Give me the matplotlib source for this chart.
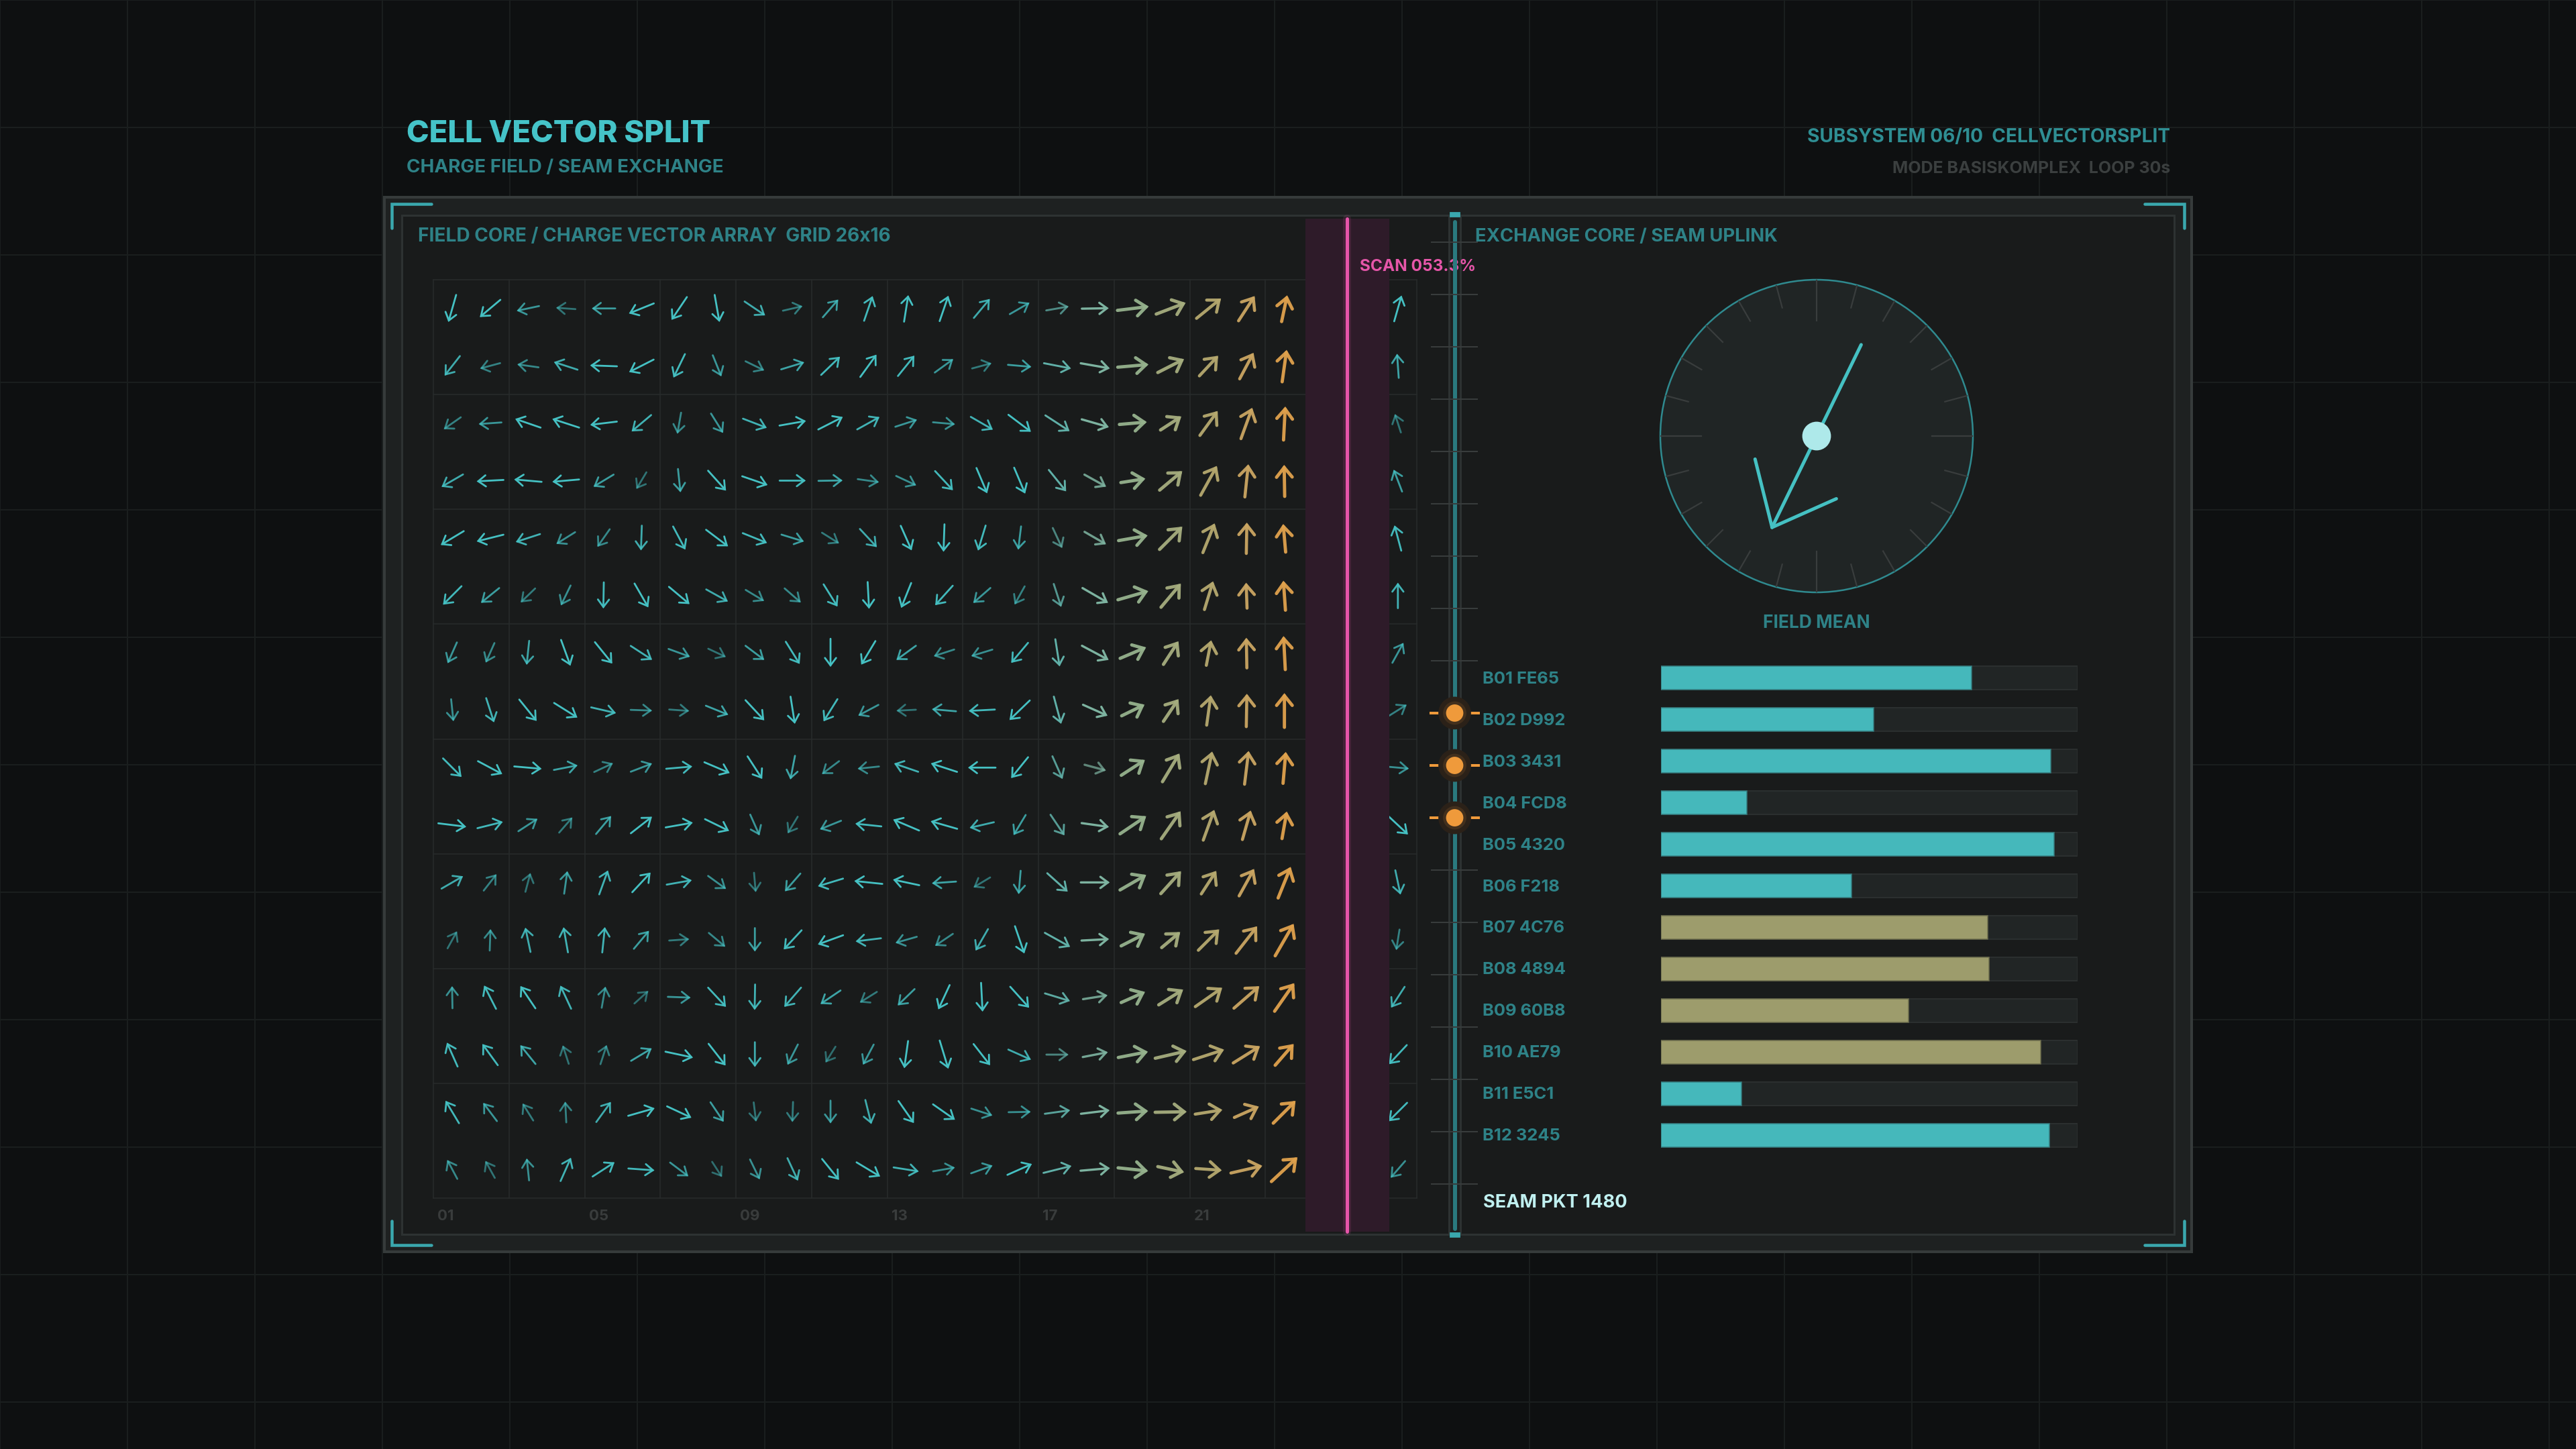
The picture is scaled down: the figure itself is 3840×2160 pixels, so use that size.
import matplotlib
matplotlib.use("Agg")
import matplotlib.pyplot as plt
import matplotlib.transforms as mtransforms
from matplotlib.patches import Rectangle, Circle
import numpy as np

nan = np.nan

# ---------------- data ----------------
n_cols, n_rows = 26, 16

# direction of each charge vector in degrees (0 = right, 90 = up), rows top to bottom
# columns 24 and 25 sit under the scan band and are not visible
ang = np.array([
    [254, 220, 192, 176, 180, 202, 236, 280, 326, 13, 49, 71, 81, 71, 50, 30, 10, 1, 7, 21, 39, 57, 78, nan, nan, 74],
    [232, 195, 172, 162, 178, 207, 244, 292, 334, 17, 44, 54, 51, 36, 15, 355, 349, 350, 5, 27, 47, 62, 82, nan, nan, 94],
    [215, 184, 161, 162, 187, 220, 260, 302, 339, 10, 27, 29, 18, 355, 330, 323, 327, 344, 5, 33, 54, 70, 87, nan, nan, 108],
    [210, 183, 175, 185, 211, 239, 276, 312, 341, 0, 1, 352, 335, 313, 293, 293, 309, 331, 9, 40, 61, 84, 91, nan, nan, 111],
    [211, 194, 198, 212, 235, 268, 298, 323, 338, 343, 328, 313, 294, 268, 253, 263, 295, 330, 10, 45, 68, 89, 95, nan, nan, 105],
    [225, 219, 224, 244, 269, 300, 320, 331, 329, 319, 302, 273, 248, 228, 221, 241, 288, 330, 16, 50, 73, 92, 94, nan, nan, 90],
    [246, 246, 264, 290, 309, 327, 340, 335, 323, 302, 270, 239, 216, 198, 197, 230, 279, 332, 23, 57, 79, 91, 93, nan, nan, 61],
    [276, 288, 309, 328, 347, 358, 356, 338, 313, 279, 238, 208, 183, 175, 183, 224, 285, 336, 26, 56, 82, 89, 90, nan, nan, 32],
    [315, 332, 355, 11, 25, 21, 5, 337, 303, 259, 217, 186, 161, 162, 180, 231, 294, 345, 33, 59, 78, 83, 85, nan, nan, 355],
    [353, 14, 33, 49, 50, 38, 10, 334, 294, 239, 202, 174, 157, 164, 193, 239, 304, 352, 34, 55, 70, 74, 80, nan, nan, 317],
    [30, 52, 75, 82, 70, 47, 10, 324, 275, 229, 197, 174, 168, 184, 211, 265, 318, 0, 30, 48, 57, 61, 68, nan, nan, 282],
    [61, 88, 102, 100, 84, 50, 4, 320, 270, 227, 200, 187, 196, 214, 240, 289, 331, 3, 27, 40, 45, 52, 60, nan, nan, 261],
    [91, 117, 124, 115, 80, 42, 358, 313, 269, 229, 214, 212, 224, 245, 273, 312, 343, 9, 24, 32, 35, 41, 55, nan, nan, 237],
    [114, 126, 129, 108, 72, 31, 348, 308, 270, 243, 238, 242, 262, 287, 308, 336, 0, 11, 11, 13, 18, 32, 49, nan, nan, 227],
    [121, 127, 122, 93, 54, 16, 335, 304, 277, 268, 270, 284, 305, 325, 342, 1, 8, 7, 4, 1, 9, 24, 45, nan, nan, 225],
    [118, 119, 96, 66, 33, 356, 323, 303, 296, 295, 309, 329, 351, 10, 20, 24, 14, 5, 354, 348, 356, 13, 43, nan, nan, 229],
])

# magnitude of each vector (arbitrary units)
mag = np.array([
    [42, 40, 34, 29, 35, 40, 41, 41, 37, 30, 35, 39, 40, 40, 37, 34, 34, 40, 47, 47, 47, 44, 40, nan, nan, 40],
    [37, 31, 32, 37, 40, 41, 39, 34, 31, 36, 39, 41, 39, 34, 30, 35, 41, 44, 46, 44, 41, 44, 48, nan, nan, 36],
    [31, 34, 40, 42, 40, 38, 32, 34, 38, 40, 41, 38, 34, 33, 38, 42, 43, 42, 41, 37, 45, 49, 50, nan, nan, 29],
    [37, 40, 41, 40, 35, 29, 35, 40, 40, 39, 36, 32, 33, 39, 41, 42, 41, 37, 37, 44, 50, 49, 47, nan, nan, 35],
    [40, 41, 38, 33, 32, 37, 39, 41, 39, 35, 30, 37, 40, 41, 39, 35, 33, 37, 44, 48, 47, 46, 42, nan, nan, 39],
    [39, 35, 30, 33, 39, 41, 40, 37, 32, 32, 39, 40, 40, 39, 34, 31, 36, 44, 47, 46, 44, 38, 44, nan, nan, 38],
    [34, 32, 36, 41, 41, 38, 34, 29, 35, 39, 42, 41, 36, 32, 33, 39, 41, 45, 42, 41, 38, 45, 50, nan, nan, 34],
    [33, 38, 41, 41, 38, 32, 30, 36, 41, 41, 39, 34, 29, 36, 39, 42, 42, 40, 38, 40, 45, 49, 51, nan, nan, 31],
    [39, 41, 41, 36, 31, 34, 39, 41, 40, 36, 32, 32, 38, 41, 41, 40, 37, 33, 42, 49, 49, 50, 47, nan, nan, 33],
    [42, 39, 34, 30, 35, 40, 41, 40, 34, 29, 34, 39, 42, 41, 37, 35, 37, 41, 47, 50, 48, 45, 41, nan, nan, 41],
    [37, 31, 29, 34, 38, 40, 38, 33, 29, 35, 39, 42, 40, 36, 29, 35, 41, 43, 45, 45, 41, 46, 50, nan, nan, 37],
    [29, 32, 37, 38, 38, 35, 30, 32, 35, 39, 40, 38, 33, 32, 37, 43, 43, 41, 40, 36, 44, 51, 55, nan, nan, 31],
    [33, 39, 40, 38, 32, 28, 34, 39, 38, 38, 36, 30, 35, 40, 43, 42, 39, 37, 39, 43, 49, 50, 51, nan, nan, 37],
    [39, 39, 36, 29, 30, 36, 42, 41, 37, 34, 28, 34, 41, 44, 40, 37, 33, 38, 45, 48, 48, 47, 42, nan, nan, 39],
    [39, 34, 30, 31, 37, 41, 40, 35, 29, 30, 34, 37, 40, 40, 33, 33, 38, 43, 45, 47, 41, 40, 47, nan, nan, 39],
    [32, 29, 33, 38, 39, 39, 34, 27, 33, 37, 40, 41, 38, 33, 34, 40, 43, 44, 45, 40, 39, 48, 53, nan, nan, 33],
])

col_label_cols = [1, 5, 9, 13, 17, 21, 25]

scan_col = 24.65
scan_band = (23.55, 25.78)
scan_text = "SCAN 053.3%"

field_mean_deg = 244
field_mean_len = 0.65

bar_labels = ["B01 FE65", "B02 D992", "B03 3431", "B04 FCD8", "B05 4320", "B06 F218",
              "B07 4C76", "B08 4894", "B09 60B8", "B10 AE79", "B11 E5C1", "B12 3245"]
bar_values = [0.745, 0.511, 0.935, 0.206, 0.943, 0.457, 0.784, 0.787, 0.594, 0.911, 0.193, 0.933]
bar_kind = ["core"] * 6 + ["seam"] * 4 + ["core"] * 2

seam_ticks = 19
seam_active = [9, 10, 11]

# ---------------- style ----------------
BG = "#0e1011"
FRAME = "#1e2121"
PANEL = "#191b1b"
EDGE = "#2d3232"
CYAN = "#45c1c3"
TEAL_TXT = "#2e8287"
BRACKET = "#3aa8ae"
col_color = {17: "#60b0a8", 18: "#7db3a0", 19: "#96b38e", 20: "#a6ae7f",
             21: "#b6a96f", 22: "#cba662", 23: "#e0a24d"}
col_lw = {17: 1.05, 18: 1.2, 19: 1.75, 20: 1.75, 21: 1.65, 22: 1.65, 23: 1.75}

plt.rcParams['font.family'] = ['Inter', 'DejaVu Sans']
plt.rcParams['font.weight'] = 'bold'

W, H, DPI = 3840, 2160, 200
PT = 72 / DPI  # points per pixel

fig = plt.figure(figsize=(W / DPI, H / DPI), dpi=DPI, facecolor=BG)


def px_axes(l, t, r, b, z):
    ax = fig.add_axes([l / W, 1 - b / H, (r - l) / W, (b - t) / H], zorder=z)
    ax.set_axis_off()
    return ax


bg = px_axes(0, 0, W, H, 0)
bg.set_xlim(0, W)
bg.set_ylim(H, 0)
fg = px_axes(0, 0, W, H, 5)
fg.set_xlim(0, W)
fg.set_ylim(H, 0)

# background grid
for gx in range(0, W + 1, 190):
    bg.plot([gx, gx], [0, H], color="#1a1e1e", lw=2 * PT, zorder=0)
for gy in range(0, H + 1, 190):
    bg.plot([0, W], [gy, gy], color="#1a1e1e", lw=2 * PT, zorder=0)

# frames
bg.add_patch(Rectangle((573, 294), 2694, 1572, fc=FRAME, ec="#363b3b", lw=4 * PT, zorder=1))
bg.add_patch(Rectangle((599, 321), 1561, 1519, fc=PANEL, ec=EDGE, lw=3 * PT, zorder=2))
bg.add_patch(Rectangle((2177, 321), 1064, 1519, fc=PANEL, ec=EDGE, lw=3 * PT, zorder=2))

# corner brackets
for cx, cy, sx, sy in [(584, 304, 1, 1), (3256, 304, -1, 1), (584, 1856, 1, -1), (3256, 1856, -1, -1)]:
    bg.plot([cx + sx * 59, cx, cx], [cy, cy, cy + sy * 36], color=BRACKET, lw=4.5 * PT,
            solid_capstyle="round", solid_joinstyle="miter", zorder=3)

# titles
bg.text(606, 212, "CELL VECTOR SPLIT", color="#45c3c8", fontsize=16.3, fontweight="heavy",
        va="baseline", zorder=4)
bg.text(606, 257, "CHARGE FIELD / SEAM EXCHANGE", color=TEAL_TXT, fontsize=10.0, va="baseline", zorder=4)
bg.text(3235, 212, "SUBSYSTEM 06/10  CELLVECTORSPLIT", color="#2f8e93", fontsize=10.1,
        ha="right", va="baseline", zorder=4)
bg.text(3235, 258, "MODE BASISKOMPLEX  LOOP 30s", color="#3b3f3f", fontsize=9.0,
        ha="right", va="baseline", zorder=4)
bg.text(623, 360, "FIELD CORE / CHARGE VECTOR ARRAY  GRID 26x16", color=TEAL_TXT, fontsize=10.1,
        va="baseline", zorder=4)
bg.text(2199, 360, "EXCHANGE CORE / SEAM UPLINK", color=TEAL_TXT, fontsize=9.9,
        va="baseline", zorder=4)
bg.text(2211, 1800, "SEAM PKT 1480", color="#c0f0f0", fontsize=9.8, va="baseline", zorder=4)

# ---------------- vector field ----------------
gl, gt, gr, gb = 646, 417, 2112, 1786
axv = px_axes(gl, gt, gr, gb, 2)
axv.set_xlim(0.5, n_cols + 0.5)
axv.set_ylim(n_rows + 0.5, 0.5)
colpx = (gr - gl) / n_cols
rowpx = (gb - gt) / n_rows

for gx in np.arange(0.5, n_cols + 0.6, 2):
    axv.plot([gx, gx], [0.5, n_rows + 0.5], color="#272b2b", lw=1.6 * PT, zorder=1, clip_on=False)
for gy in np.arange(0.5, n_rows + 0.6, 2):
    axv.plot([0.5, n_cols + 0.5], [gy, gy], color="#272b2b", lw=1.6 * PT, zorder=1, clip_on=False)

for r in range(n_rows):
    for c in range(n_cols):
        a, m = ang[r, c], mag[r, c]
        if np.isnan(a):
            continue
        col = c + 1
        th = np.deg2rad(a)
        dx = m * np.cos(th) / colpx
        dy = -m * np.sin(th) / rowpx
        x0, y0 = col, r + 1
        lw = col_lw.get(col, 1.0)
        thick = lw > 1.4
        hl, hw = (0.52, 0.42) if thick else (0.4, 0.3)
        alpha = 0.95 if thick else 0.5 + 0.5 * np.clip((m - 28) / 12, 0, 1)
        axv.annotate("", xy=(x0 + dx / 2, y0 + dy / 2), xytext=(x0 - dx / 2, y0 - dy / 2),
                     arrowprops=dict(arrowstyle=f"->,head_length={hl},head_width={hw}",
                                     color=col_color.get(col, CYAN), lw=lw, alpha=alpha,
                                     shrinkA=0, shrinkB=0, capstyle="round", joinstyle="miter"),
                     annotation_clip=False, zorder=3)

for c in col_label_cols:
    axv.text(c - 0.39, n_rows + 0.5 + 33 / rowpx, f"{c:02d}", color="#393c3c", fontsize=8,
             va="baseline", zorder=2, clip_on=False)

# scan band and line
y_lo = -(1836 - gb) / (gb - gt)
y_hi = 1 + (gt - 326) / (gb - gt)
axv.axvspan(scan_band[0], scan_band[1], ymin=y_lo, ymax=y_hi, color="#2e1b29", lw=0,
            zorder=6, clip_on=False)
axv.axvline(scan_col, ymin=y_lo, ymax=y_hi, color="#e655aa", lw=12 * PT, alpha=0.12,
            zorder=7, clip_on=False, solid_capstyle="round")
axv.axvline(scan_col, ymin=y_lo, ymax=y_hi, color="#e655aa", lw=5 * PT,
            zorder=7, clip_on=False, solid_capstyle="round")
axv.text(scan_col + 0.335, 0.5 - 13 / rowpx, scan_text, color="#e656a9", fontsize=8.8,
         va="baseline", zorder=8, clip_on=False)

# ---------------- seam strip ----------------
fg.plot([2168.5, 2168.5], [331, 1832], color="#2a7a7f", lw=6 * PT, solid_capstyle="round", zorder=1)
fg.add_patch(Rectangle((2162, 317), 13, 5, color=BRACKET, zorder=1))
fg.add_patch(Rectangle((2162, 1838), 13, 5, color=BRACKET, zorder=1))
for k in range(seam_ticks):
    ty = 360.5 + 78.05 * k
    if k in seam_active:
        fg.plot([2133, 2146], [ty, ty], color="#ef9a3b", lw=4 * PT, zorder=2)
        fg.plot([2191, 2204], [ty, ty], color="#ef9a3b", lw=4 * PT, zorder=2)
        fg.add_patch(Circle((2168.5, ty), 23, color="#2b2118", zorder=3))
        fg.add_patch(Circle((2168.5, ty), 16, color="#43301d", zorder=3))
        fg.add_patch(Circle((2168.5, ty), 11.5, color="#ef9a3b", zorder=4))
    else:
        fg.plot([2134, 2202], [ty, ty], color="#383c3c", lw=2 * PT, zorder=2)

# ---------------- gauge ----------------
gcx, gcy, grad = 2708, 650, 233
half = 260
axg = px_axes(gcx - half, gcy - half, gcx + half, gcy + half, 2)
axg.set_xlim(-half / grad, half / grad)
axg.set_ylim(-half / grad, half / grad)
axg.add_patch(Circle((0, 0), 1, fc="#202525", ec="#2f8a8f", lw=2.5 * PT, zorder=1))
for k in range(24):
    t = np.deg2rad(15 * k)
    r_in = 0.74 if k % 6 == 0 else 0.85
    axg.plot([r_in * np.cos(t), 0.995 * np.cos(t)], [r_in * np.sin(t), 0.995 * np.sin(t)],
             color="#393d3d", lw=2.2 * PT, zorder=2)
t = np.deg2rad(field_mean_deg)
tip = field_mean_len * np.array([np.cos(t), np.sin(t)])
axg.plot([-tip[0], tip[0]], [-tip[1], tip[1]], color=CYAN, lw=5 * PT, solid_capstyle="round", zorder=3)
for da in (40, -40):
    tb = t + np.pi + np.deg2rad(da)
    axg.plot([tip[0], tip[0] + 0.45 * np.cos(tb)], [tip[1], tip[1] + 0.45 * np.sin(tb)],
             color=CYAN, lw=5 * PT, solid_capstyle="round", zorder=3)
axg.add_patch(Circle((0, 0), 20 / grad, color="#aee9ea", zorder=4))
axg.text(0, -(936 - gcy) / grad, "FIELD MEAN", color=TEAL_TXT, fontsize=9.5, ha="center",
         va="baseline", clip_on=False)

# ---------------- bars ----------------
axb = px_axes(2476, 980, 3097, 1723, 2)
axb.set_xlim(0, 1)
axb.set_ylim(len(bar_values) - 0.5, -0.5)
yy = np.arange(len(bar_values))
axb.barh(yy, [1.0] * len(yy), height=0.565, color="#212525", edgecolor="#2b2f2f", lw=2 * PT)
axb.barh(yy, bar_values, height=0.565,
         color=["#45b8bb" if k == "core" else "#9d9c6c" for k in bar_kind],
         edgecolor=["#357f82" if k == "core" else "#6f6f4e" for k in bar_kind], lw=1.5 * PT)
lab_tr = mtransforms.blended_transform_factory(axb.transAxes, axb.transData)
for i, lab in enumerate(bar_labels):
    axb.text((2210 - 2476) / (3097 - 2476), i + 8 / 62, lab, color=TEAL_TXT, fontsize=9.2,
             va="baseline", transform=lab_tr, clip_on=False)

fig.savefig("out.png", dpi=DPI, facecolor=BG)
